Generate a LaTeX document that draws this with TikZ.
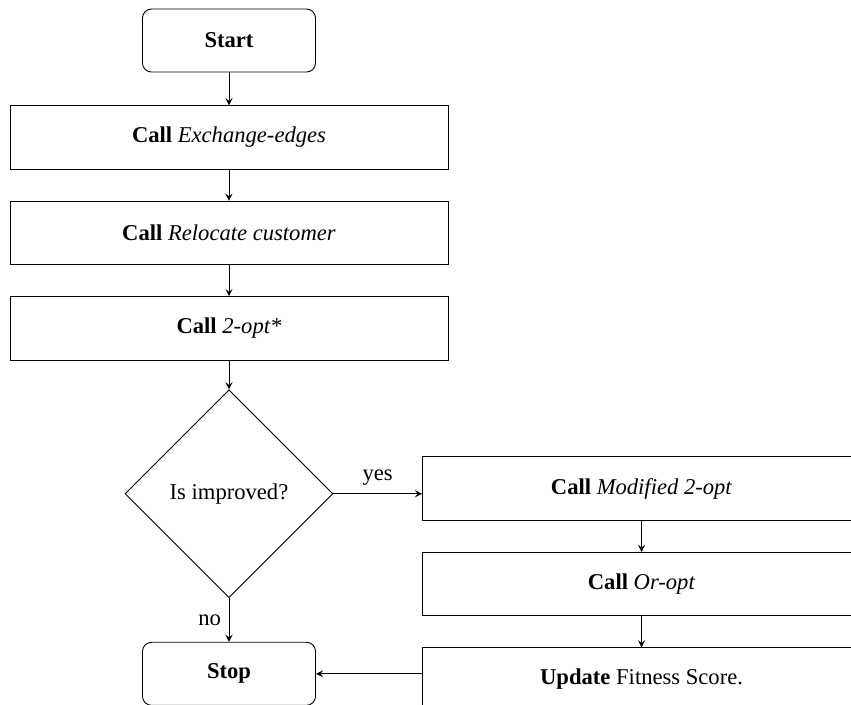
\documentclass[tikz,border=0pt]{standalone}
\usepackage{fontspec}
\setmainfont{Liberation Serif}
\usetikzlibrary{positioning,shapes.geometric}

\begin{document}
\begin{tikzpicture}[
    node distance=0.485cm,
    terminal/.style={
        rectangle,
        draw,
        rounded corners,
        minimum width=2.69cm,
        minimum height=0.98cm,
        align=center
    },
    process/.style={
        rectangle,
        draw,
        minimum width=6.81cm,
        minimum height=0.985cm,
        align=center
    },
    decision/.style={
        diamond,
        draw,
        aspect=1,
        minimum size=3.23cm,
        inner sep=0pt,
        align=center
    },
    arrow/.style={->, >=stealth}
]
\useasboundingbox (-3.56,0.63) rectangle (9.67,-10.32);

\node[terminal] (start) at (0,0)
{\textbf{Start}};

\node[process] (exch) [below=0.51cm of start]
{\textbf{Call} \textit{Exchange-edges}};

\node[process] (reloc) [below=of exch]
{\textbf{Call} \textit{Relocate customer}};

\node[process] (twoopt) [below=of reloc]
{\textbf{Call} \textit{2-opt*}};

\node[decision] (dec) [below=0.45cm of twoopt]
{Is improved?};

\node[terminal] (stop) [below=0.68cm of dec]
{\textbf{Stop}};

\node[process] (mod) [right=1.38cm of dec, yshift=0.08cm]
{\textbf{Call} \textit{Modified 2-opt}};

\node[process] (oropt) [below=of mod]
{\textbf{Call} \textit{Or-opt}};

\node[process] (upd) [below=of oropt]
{\textbf{Update} Fitness Score.};

\draw[arrow] (start) -- (exch);
\draw[arrow] (exch) -- (reloc);
\draw[arrow] (reloc) -- (twoopt);
\draw[arrow] (twoopt) -- (dec);
\draw[arrow] (dec) -- node[above] {yes} (dec.east -| mod.west);
\draw[arrow] (dec) -- node[left] {no} (stop);
\draw[arrow] (mod) -- (oropt);
\draw[arrow] (oropt) -- (upd);
\draw[arrow] (upd.west |- stop.east) -- (stop);

\end{tikzpicture}
\end{document}
